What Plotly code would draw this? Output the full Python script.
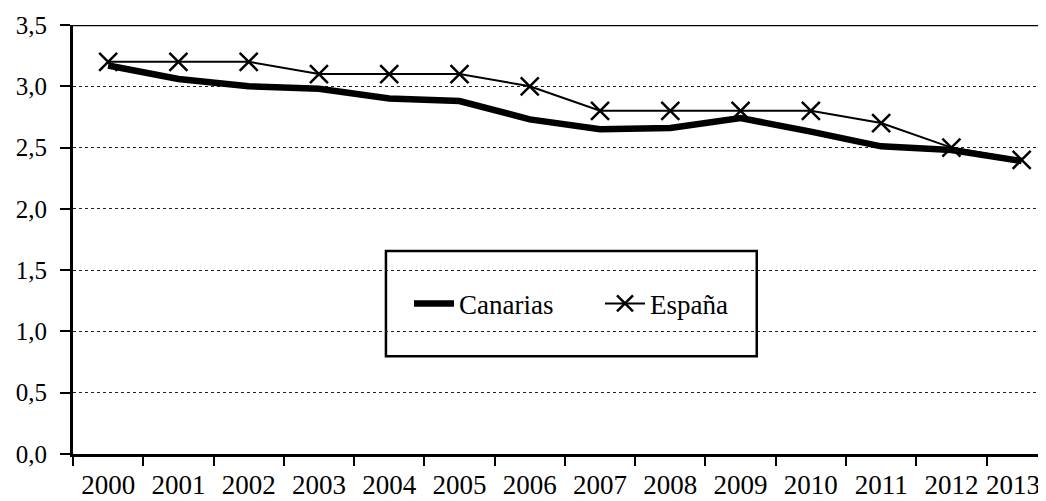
import plotly.graph_objects as go

years = ["2000", "2001", "2002", "2003", "2004", "2005", "2006",
         "2007", "2008", "2009", "2010", "2011", "2012", "2013"]
canarias = [3.17, 3.06, 3.00, 2.98, 2.90, 2.88, 2.73, 2.65, 2.66, 2.74, 2.63, 2.51, 2.48, 2.39]
espana = [3.2, 3.2, 3.2, 3.1, 3.1, 3.1, 3.0, 2.8, 2.8, 2.8, 2.8, 2.7, 2.5, 2.4]
y_ticks = [0.0, 0.5, 1.0, 1.5, 2.0, 2.5, 3.0, 3.5]
y_labels = ["0,0", "0,5", "1,0", "1,5", "2,0", "2,5", "3,0", "3,5"]
# the last year label is drawn as an annotation nudged left (as in the original export)
x_labels = years[:-1] + [""]

FONT = "Liberation Serif, Times New Roman, serif"

fig = go.Figure()
fig.add_trace(go.Scatter(
    x=years, y=canarias, name="Canarias", mode="lines",
    line=dict(color="black", width=6.5)))
fig.add_trace(go.Scatter(
    x=years, y=espana, name="España", mode="lines+markers",
    line=dict(color="black", width=2),
    marker=dict(symbol="x-thin", size=18, line=dict(color="black", width=2.5))))

fig.update_layout(
    width=1046, height=501,
    margin=dict(l=65, r=0, t=17, b=55),
    paper_bgcolor="white", plot_bgcolor="white",
    font=dict(family=FONT, color="black", size=23),
    showlegend=True,
    legend=dict(orientation="h", x=0.3425, xanchor="left", y=0.35, yanchor="middle",
                font=dict(size=27, family=FONT, color="black"), bgcolor="rgba(0,0,0,0)",
                itemwidth=40, entrywidth=136, entrywidthmode="pixels"),
    xaxis=dict(type="category", showline=True, linecolor="black", linewidth=3,
               ticks="outside", tickson="boundaries", ticklen=9, tickwidth=2,
               tickcolor="black", showgrid=False, tickangle=0, automargin=False,
               tickvals=years, ticktext=x_labels,
               tickfont=dict(size=27, family=FONT, color="black"),
               ticklabelstandoff=5, range=[-0.5, 13.46]),
    yaxis=dict(range=[0, 3.5], tickvals=y_ticks, ticktext=y_labels,
               showline=True, linecolor="black", linewidth=3, automargin=False,
               ticks="outside", ticklen=10, tickwidth=2, tickcolor="black",
               showgrid=True, gridcolor="#222", griddash="dot", gridwidth=1,
               zeroline=False, tickfont=dict(size=25, family=FONT, color="black"),
               ticklabelstandoff=8),
    annotations=[
        dict(x=1, xref="paper", y=0, yref="paper", text=years[-1],
             showarrow=False, xanchor="right", yanchor="top",
             xshift=-12, yshift=-14,
             font=dict(size=27, family=FONT, color="black")),
    ],
    shapes=[
        dict(type="line", xref="paper", yref="y", x0=0, x1=1, y0=3.5, y1=3.5,
             line=dict(color="black", width=2.5)),
        dict(type="rect", xref="paper", yref="paper", x0=0.319, x1=0.697,
             y0=0.228, y1=0.473, line=dict(color="black", width=2.5),
             fillcolor="white", layer="below"),
    ],
)

fig.write_html("out.html")
